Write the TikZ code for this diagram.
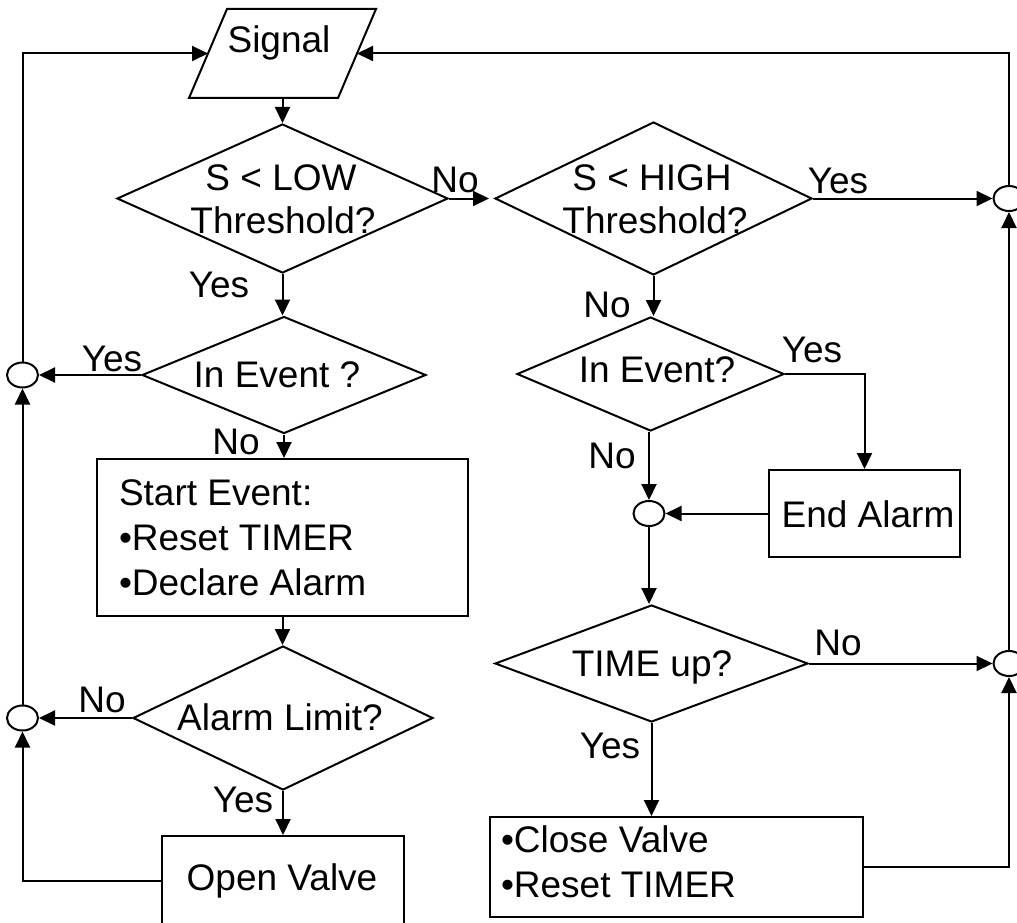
\documentclass[tikz,border=0pt]{standalone}
\usepackage{fontspec}
\setmainfont{Liberation Sans}
\usetikzlibrary{shapes.geometric,arrows.meta}
\begin{document}
\begin{tikzpicture}[x=1pt,y=-1pt,
  line width=2pt,
  arr/.style={-{Triangle[length=16pt,width=15pt]}},
  lbl/.style={font=\fontsize{37}{45}\selectfont, inner sep=0pt, anchor=base},
  mlbl/.style={font=\fontsize{37}{45}\selectfont, inner sep=0pt, anchor=north west, align=left},
  dia/.style={diamond, draw, inner sep=0pt},
  box/.style={rectangle, draw, inner sep=0pt},
  junc/.style={ellipse, draw, inner sep=0pt, minimum width=31pt, minimum height=25pt}]
\clip (0,0) rectangle (1017,923);

% Signal (parallelogram)
\draw (189,98) -- (227,9) -- (376,9) -- (338,98) -- cycle;
\coordinate (sigL) at (208,53.5);
\coordinate (sigR) at (357,53.5);
\coordinate (sigB) at (282.5,98);
\node[lbl] (sig) at (279,53) {Signal};

% decisions
\node[dia, minimum width=331pt, minimum height=149pt] (d1) at (282.5,198.5) {};
\node[dia, minimum width=317pt, minimum height=153pt] (d2) at (653.5,198.5) {};
\node[dia, minimum width=284pt, minimum height=117pt] (e1) at (284,375) {};
\node[dia, minimum width=267pt, minimum height=114pt] (e2) at (650.5,374) {};
\node[dia, minimum width=300pt, minimum height=144pt] (al) at (283,718) {};
\node[dia, minimum width=313pt, minimum height=117pt] (tu) at (651.5,663.5) {};

% boxes
\node[box, minimum width=371pt, minimum height=157pt] (start) at (282.5,537.5) {};
\node[box, minimum width=242pt, minimum height=90pt] (open) at (283,881) {};
\node[box, minimum width=191pt, minimum height=87pt] (endal) at (864.5,513.5) {};
\node[box, minimum width=373pt, minimum height=100pt] (close) at (676.5,867) {};

% junctions
\node[junc] (c1) at (22.5,375) {};
\node[junc] (c2) at (22.5,718) {};
\node[junc] (c3) at (649,513.5) {};
\node[junc] (c4) at (1009,198.5) {};
\node[junc] (c5) at (1009,663.5) {};

% texts
\node[lbl] (t1a) at (281,190) {S < LOW};
\node[lbl] (t1b) at (283,233) {Threshold?};
\node[lbl] (t2a) at (652,190) {S < HIGH};
\node[lbl] (t2b) at (655,233) {Threshold?};
\node[lbl] (te1) at (277,387) {In Event ?};
\node[lbl] (te2) at (657,382) {In Event?};
\node[lbl] (tal) at (280,730) {Alarm Limit?};
\node[lbl] (ttu) at (652,676) {TIME up?};
\node[lbl] (tov) at (282,890) {Open Valve};
\node[lbl] (tea) at (868,527) {End Alarm};
\node[mlbl] (tst) at (118,479) {Start Event:\\•Reset TIMER\\•Declare Alarm};
\node[mlbl] (tcl) at (500,825) {•Close Valve\\•Reset TIMER};

% labels on connectors
\node[lbl] (lno1) at (455,192) {No};
\node[lbl] (lyes1) at (838,193) {Yes};
\node[lbl] (lyes2) at (219,297) {Yes};
\node[lbl] (lyes3) at (112,371) {Yes};
\node[lbl] (lno2) at (236,454) {No};
\node[lbl] (lno3) at (102,712) {No};
\node[lbl] (lyes4) at (243,812) {Yes};
\node[lbl] (lno4) at (607,317) {No};
\node[lbl] (lyes5) at (812,362) {Yes};
\node[lbl] (lno5) at (612,468) {No};
\node[lbl] (lno6) at (838,655) {No};
\node[lbl] (lyes6) at (610,758) {Yes};

% connectors
\draw[arr] (sigB) -- (d1.north);
\draw[arr, shorten >=5pt] (d1.east) -- (d2.west);
\draw[arr] (d2.east) -- (c4.west);
\draw[arr] (c4.north) |- (sigR);
\draw[arr] (e1.west) -- (c1.east);
\draw[arr] (c1.north) |- (sigL);
\draw[arr] (d1.south) -- (e1.north -| d1.south);
\draw[arr] (e1.south) -- (start.north -| e1.south);
\draw[arr] (start.south) -- (al.north -| start.south);
\draw[arr] (al.west) -- (c2.east);
\draw[arr] (c2.north) -- (c1.south);
\draw[arr] (al.south) -- (open.north -| al.south);
\draw[arr] (open.west) -| (c2.south);
\draw[arr] (d2.south) -- (e2.north -| d2.south);
\draw[arr] (e2.east) -| (endal.north);
\draw[arr] (e2.south -| c3.north) -- (c3.north);
\draw[arr] (endal.west) -- (c3.east);
\draw[arr] (c3.south) -- (tu.north -| c3.south);
\draw[arr] (tu.south) -- (close.north -| tu.south);
\draw[arr] (tu.east) -- (c5.west);
\draw[arr] (close.east) -| (c5.south);
\draw[arr] (c5.north) -- (c4.south);
\end{tikzpicture}
\end{document}
